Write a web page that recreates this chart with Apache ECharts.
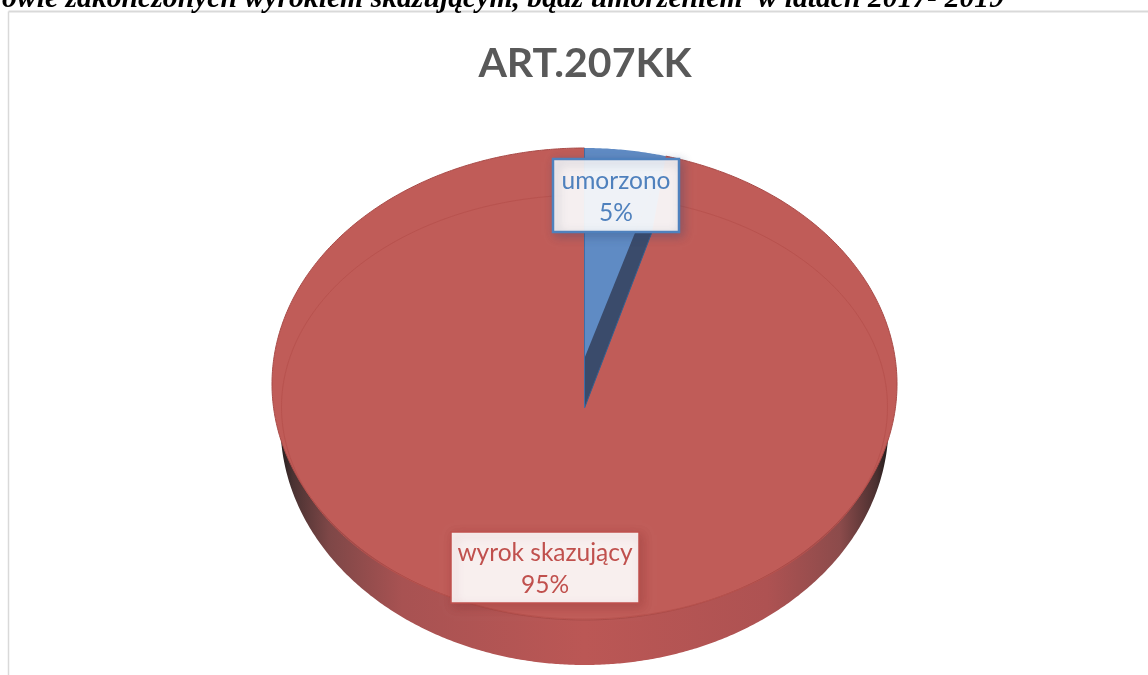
<!DOCTYPE html>
<html lang="pl">
<head>
    <meta charset="UTF-8">
    <title>ART.207KK</title>
    <script src="https://cdn.jsdelivr.net/npm/echarts@6/dist/echarts.min.js"></script>
    <style>
        body { margin: 0; background: #fff; overflow: hidden; }
        #chart { width: 1148px; height: 675px; }
    </style>
</head>
<body>
    <div id="chart"></div>
    <script>
        const chartTitle = 'ART.207KK';
        const pageHeading = 'owie zakończonych wyrokiem skazującym, bądź umorzeniem  w latach 2017- 2019';
        const categories = ['umorzono', 'wyrok skazujący'];
        const shareValues = [5, 95];
        const sliceColors = ['#5F8BC4', '#C05C58'];
        const labelColors = ['#4F81BD', '#C0504D'];
        const labelShadows = ['rgba(50,70,110,0.35)', 'rgba(120,30,30,0.28)'];

        // pie geometry, the reference is a tilted 3D pie so it has to be an ellipse
        const top3d = { cx: 584.5, cy: 384, rx: 312.5, ry: 236 };
        const inner3d = { cx: 584.5, cy: 407, rx: 303, ry: 212 };
        const base3d = { cx: 584.5, cy: 425, rx: 304, ry: 240 };
        const squeeze = 0.83;  // perspective: slices at the back look narrower
        const labelBoxes = [
            { x: 553, y: 159, w: 126, h: 73 },
            { x: 451, y: 532, w: 188, h: 71 }
        ];

        function rimPoint(e, deg) {
            const t = deg * Math.PI / 180;
            const p = Math.atan2(squeeze * Math.sin(t), Math.cos(t));
            return [e.cx + e.rx * Math.sin(p), e.cy - e.ry * Math.cos(p)];
        }

        function slicePoints(e, apex, from, to) {
            const pts = [apex];
            for (let a = from; a <= to; a += 0.5) pts.push(rimPoint(e, a));
            pts.push(rimPoint(e, to));
            return pts;
        }

        // where the segment a-b crosses the height y
        function atHeight(a, b, y) {
            const t = (y - a[1]) / (b[1] - a[1]);
            return [a[0] + (b[0] - a[0]) * t, y];
        }

        function renderSlice(params, api) {
            const i = params.dataIndex;
            const total = shareValues.reduce((a, b) => a + b, 0);
            const before = shareValues.slice(0, i).reduce((a, b) => a + b, 0);
            const from = before / total * 360;
            const to = from + api.value(1) / total * 360;
            const children = [];
            const b = labelBoxes[i];

            if (i === 1) {
                // side wall, only the front slice shows it
                children.push({
                    type: 'polygon', z2: 1,
                    shape: { points: slicePoints(base3d, [base3d.cx, base3d.cy], 0, 360) },
                    style: {
                        fill: new echarts.graphic.LinearGradient(0, 0, 1, 0, [
                            { offset: 0, color: '#241e1e' },
                            { offset: 0.02, color: '#4a3232' },
                            { offset: 0.08, color: '#7e4747' },
                            { offset: 0.2, color: '#a85252' },
                            { offset: 0.5, color: '#bb5755' },
                            { offset: 0.8, color: '#ae5252' },
                            { offset: 0.92, color: '#8c4b4b' },
                            { offset: 0.98, color: '#4a3030' },
                            { offset: 1, color: '#201a1a' }
                        ])
                    }
                });
                children.push({
                    type: 'polygon', z2: 2,
                    shape: { points: slicePoints(top3d, [top3d.cx, 358], from, to) },
                    style: { fill: sliceColors[i], stroke: '#A94B48', lineWidth: 1 }
                });
                children.push({
                    type: 'polygon', z2: 3,
                    shape: { points: slicePoints(inner3d, [inner3d.cx, inner3d.cy], 0, 360).slice(1) },
                    style: { fill: 'none', stroke: '#B8524E', lineWidth: 1 }
                });
            } else {
                // dark inner wall of the slice, it stops under the label box
                const apex = [inner3d.cx, 408];
                const litApex = [top3d.cx, 358];
                const boxBottom = b.y + b.h;
                const darkEdge = atHeight(apex, rimPoint(inner3d, to), boxBottom);
                const litEdge = atHeight(litApex, rimPoint(top3d, to), boxBottom);
                children.push({
                    type: 'polygon', z2: 4,
                    shape: { points: [apex, darkEdge, [apex[0], boxBottom]] },
                    style: { fill: '#3A4B6B', stroke: '#34608F', lineWidth: 1 }
                });
                children.push({
                    type: 'polygon', z2: 5,
                    shape: { points: slicePoints(top3d, litApex, from, to) },
                    style: { fill: sliceColors[i] }
                });
                children.push({
                    type: 'polygon', z2: 5,
                    shape: { points: [litEdge, darkEdge, rimPoint(top3d, to)] },
                    style: { fill: sliceColors[i] }
                });
                children.push({
                    type: 'line', z2: 6,
                    shape: { x1: top3d.cx, y1: top3d.cy - top3d.ry, x2: top3d.cx, y2: 408 },
                    style: { stroke: '#3F6DA6', lineWidth: 1 }
                });
            }

            children.push({
                type: 'rect', z2: 20,
                shape: { x: b.x, y: b.y, width: b.w, height: b.h },
                style: {
                    fill: 'rgba(255,255,255,0.91)',
                    stroke: labelColors[i],
                    lineWidth: i === 0 ? 2.5 : 1.5,
                    shadowBlur: 10,
                    shadowOffsetX: 3,
                    shadowOffsetY: 3,
                    shadowColor: labelShadows[i]
                }
            });
            children.push({
                type: 'text', z2: 21,
                style: {
                    x: b.x + b.w / 2,
                    y: b.y + b.h / 2 + 2,
                    text: categories[i] + '\n' + api.value(1) + '%',
                    fill: labelColors[i],
                    font: '24.5px Lato',
                    lineHeight: 32,
                    align: 'center',
                    verticalAlign: 'middle'
                }
            });
            return { type: 'group', children };
        }

        const chart = echarts.init(document.getElementById('chart'));
        chart.setOption({
            animation: false,
            backgroundColor: '#fff',
            title: [
                {
                    text: chartTitle,
                    left: 580,
                    top: 38,
                    textAlign: 'center',
                    textStyle: { fontFamily: 'Lato', fontWeight: 'bold', fontSize: 41, color: '#595959' }
                },
                {
                    text: pageHeading,
                    left: 999,
                    top: -21,
                    textAlign: 'right',
                    textStyle: { fontFamily: 'Liberation Serif', fontStyle: 'italic', fontWeight: 'bold', fontSize: 29.7, color: '#000' }
                }
            ],
            graphic: [
                { type: 'line', shape: { x1: 8.5, y1: 11.5, x2: 1148, y2: 11.5 }, style: { stroke: '#D9D9D9', lineWidth: 2 } },
                { type: 'line', shape: { x1: 8.5, y1: 11.5, x2: 8.5, y2: 675 }, style: { stroke: '#D9D9D9', lineWidth: 1.5 } }
            ],
            series: [{
                type: 'custom',
                coordinateSystem: 'none',
                silent: true,
                renderItem: renderSlice,
                data: categories.map((c, i) => [i, shareValues[i]])
            }]
        });
    </script>
</body>
</html>
